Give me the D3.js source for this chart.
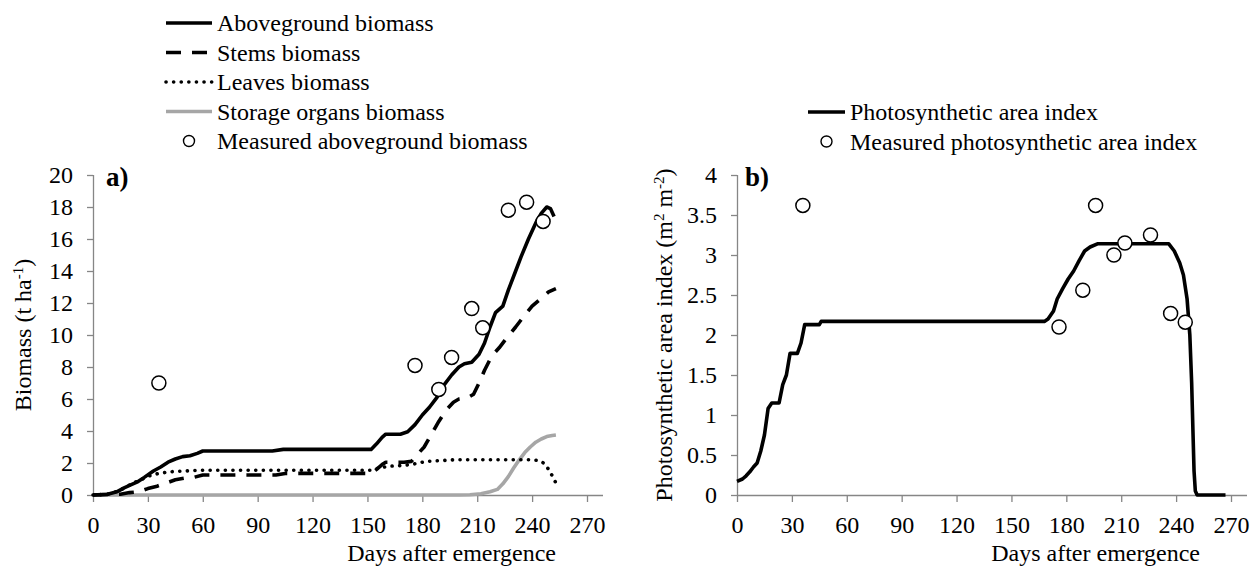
<!DOCTYPE html>
<html>
<head>
<meta charset="utf-8">
<script src="https://cdn.jsdelivr.net/npm/d3@7"></script>
<style>
	body { margin: 0; background: #fff; }
	svg text { font-family: "Liberation Serif", "Times New Roman", serif; fill: #000; }
</style>
</head>
<body>
<script>
// [day, value] pairs
let aboveground = [[0,0],[8,0.05],[13,0.2],[17,0.45],[20,0.6],[24,0.8],[28,1.1],[33,1.5],[37,1.75],[41,2.05],[45,2.25],[49,2.4],[53,2.45],[57,2.6],[60,2.75],[80,2.75],[98,2.75],[104,2.85],[130,2.85],[152,2.85],[155,3.2],[158,3.6],[160,3.8],[168,3.8],[172,3.95],[176,4.4],[180,5.0],[184,5.5],[188,6.1],[192,6.9],[196,7.5],[200,8.0],[203,8.2],[207,8.3],[211,8.8],[214,9.5],[217,10.5],[220,11.4],[224,11.8],[227,12.8],[231,14.0],[234,14.9],[238,16.0],[242,17.0],[245,17.6],[248,18.0],[250,17.9],[252,17.4]];
let stems = [[0,0],[15,0.05],[20,0.15],[25,0.2],[30,0.4],[35,0.55],[40,0.75],[45,0.95],[50,1.05],[55,1.1],[60,1.25],[100,1.25],[105,1.35],[152,1.35],[155,1.6],[158,1.9],[160,2.05],[170,2.05],[174,2.1],[177,2.5],[181,3.0],[185,3.8],[189,4.6],[193,5.3],[197,5.8],[200,6.0],[205,6.1],[208,6.3],[211,7.0],[214,7.8],[218,8.7],[222,9.2],[226,9.8],[231,10.5],[235,11.1],[240,11.8],[245,12.3],[249,12.7],[253,12.9]];
let leaves = [[0,0],[8,0.05],[14,0.25],[18,0.5],[22,0.75],[27,1.0],[31,1.2],[36,1.35],[42,1.45],[50,1.5],[60,1.55],[100,1.55],[152,1.55],[157,1.7],[162,1.8],[170,1.85],[176,1.95],[182,2.1],[190,2.15],[197,2.2],[240,2.2],[244,2.15],[247,1.95],[249,1.6],[251,1.2],[253,0.75]];
let storage = [[0,0],[200,0],[206,0.02],[212,0.08],[217,0.2],[221,0.35],[224,0.7],[227,1.15],[230,1.7],[233,2.2],[236,2.65],[239,3.0],[242,3.3],[245,3.5],[248,3.65],[251,3.72],[253,3.75]];
let measuredBiomass = [[36,7.0],[176,8.1],[189,6.6],[196,8.6],[207,11.65],[213,10.45],[227,17.8],[237,18.3],[246,17.1]];

let pai = [[0,0.17],[3,0.2],[5,0.24],[7,0.29],[9,0.35],[11,0.4],[13,0.55],[15,0.75],[17,1.08],[19,1.15],[23,1.15],[25,1.38],[27,1.5],[29,1.77],[33,1.77],[35,1.9],[37,2.13],[45,2.13],[46,2.17],[168,2.17],[170,2.2],[173,2.3],[175,2.45],[178,2.58],[181,2.7],[184,2.8],[187,2.93],[190,3.05],[193,3.1],[197,3.14],[236,3.14],[239,3.05],[242,2.9],[244,2.75],[246,2.45],[247.5,2.0],[248.5,1.4],[249.2,0.8],[249.8,0.3],[250.5,0.05],[251.5,0],[267,0]];
let measuredPai = [[36,3.62],[176,2.1],[189,2.56],[196,3.62],[206,3.0],[212,3.15],[226,3.25],[237,2.27],[245,2.16]];

let dayTicks = d3.range(0, 271, 30);
let biomassTicks = d3.range(0, 21, 2);
let paiTicks = d3.range(0, 4.01, 0.5);

let width = 1257;
let height = 568;
let plotTop = 175, plotBottom = 495;
let fontSize = 24;

let svg = d3.select("body").append("svg")
	.attr("width", width)
	.attr("height", height);

let styles = {
	solid: { stroke: "#000", dash: null, cap: "butt" },
	dashed: { stroke: "#000", dash: "15,11", cap: "butt" },
	dotted: { stroke: "#000", dash: "0.1,7.5", cap: "round" },
	gray: { stroke: "#a6a6a6", dash: null, cap: "butt" }
};

function drawPanel(opt){
	let x = d3.scaleLinear().domain([0, 270]).range([opt.left, opt.left + 494]);
	let y = d3.scaleLinear().domain([0, opt.yMax]).range([plotBottom, plotTop]);
	let g = svg.append("g");

	// axes, excel style: grey line, ticks outside
	let xAxis = g.append("g")
		.attr("transform", `translate(0,${plotBottom})`)
		.call(d3.axisBottom(x).tickValues(dayTicks).tickSize(7).tickPadding(14).tickFormat(d3.format("d")));
	xAxis.select(".domain").attr("d", `M${x(0)},0.5H${x(270) + 16}`);

	let yAxis = g.append("g")
		.attr("transform", `translate(${opt.left},0)`)
		.call(d3.axisLeft(y).tickValues(opt.ticks).tickSize(6).tickPadding(14).tickFormat(opt.fmt));
	yAxis.select(".domain").attr("d", `M0.5,${plotBottom}V${plotTop}`);

	g.selectAll(".domain, .tick line").attr("stroke", "#868686").attr("stroke-width", 1.3);
	g.selectAll(".tick text")
		.style("font-family", "'Liberation Serif', serif")
		.style("font-size", fontSize + "px")
		.attr("fill", "#000");

	let line = d3.line().x(d => x(d[0])).y(d => y(d[1]));
	opt.series.forEach(s => {
		let st = styles[s.style];
		g.append("path")
			.datum(s.data)
			.attr("d", line)
			.attr("fill", "none")
			.attr("stroke", st.stroke)
			.attr("stroke-width", 3.6)
			.attr("stroke-linecap", st.cap)
			.attr("stroke-linejoin", "round")
			.attr("stroke-dasharray", st.dash);
	});

	g.selectAll(".obs")
		.data(opt.points)
		.enter()
		.append("circle")
		.attr("cx", d => x(d[0]))
		.attr("cy", d => y(d[1]))
		.attr("r", 7)
		.attr("fill", "#fff")
		.attr("stroke", "#000")
		.attr("stroke-width", 1.5);

	g.append("text")
		.attr("x", opt.left + opt.tagDx)
		.attr("y", plotTop + 11)
		.style("font-size", "27px")
		.style("font-weight", "bold")
		.text(opt.tag);

	g.append("text")
		.attr("x", x(196))
		.attr("y", 561)
		.attr("text-anchor", "middle")
		.style("font-size", fontSize + "px")
		.text("Days after emergence");

	let yt = g.append("text")
		.attr("transform", `translate(${opt.titleX},${(plotTop + plotBottom) / 2}) rotate(-90)`)
		.attr("text-anchor", "middle")
		.attr("dy", "0.35em")
		.style("font-size", fontSize + "px");
	opt.title(yt);

	// legend
	let lg = g.append("g");
	opt.legend.forEach((item, i) => {
		let ly = opt.legendY + i * 29.5;
		if(item.style){
			let st = styles[item.style];
			lg.append("line")
				.attr("x1", opt.legendX).attr("x2", opt.legendX + opt.legendLen)
				.attr("y1", ly).attr("y2", ly)
				.attr("stroke", st.stroke)
				.attr("stroke-width", 3.6)
				.attr("stroke-linecap", st.cap)
				.attr("stroke-dasharray", st.dash);
		} else {
			lg.append("circle")
				.attr("cx", opt.legendX + opt.legendLen / 2).attr("cy", ly)
				.attr("r", 5.5)
				.attr("fill", "#fff")
				.attr("stroke", "#000")
				.attr("stroke-width", 1.4);
		}
		lg.append("text")
			.attr("x", opt.legendX + opt.legendLen + 5)
			.attr("y", ly)
			.attr("dy", "0.35em")
			.style("font-size", fontSize + "px")
			.text(item.label);
	});
}

drawPanel({
	left: 93,
	yMax: 20,
	ticks: biomassTicks,
	fmt: d3.format("d"),
	tag: "a)",
	tagDx: 13,
	titleX: 23,
	title: t => {
		t.append("tspan").text("Biomass (t ha");
		t.append("tspan").attr("baseline-shift", "super").style("font-size", "15px").text("-1");
		t.append("tspan").text(")");
	},
	series: [
		{ data: storage, style: "gray" },
		{ data: leaves, style: "dotted" },
		{ data: stems, style: "dashed" },
		{ data: aboveground, style: "solid" }
	],
	points: measuredBiomass,
	legendX: 166,
	legendLen: 46,
	legendY: 23,
	legend: [
		{ label: "Aboveground biomass", style: "solid" },
		{ label: "Stems biomass", style: "dashed" },
		{ label: "Leaves biomass", style: "dotted" },
		{ label: "Storage organs biomass", style: "gray" },
		{ label: "Measured aboveground biomass" }
	]
});

drawPanel({
	left: 737,
	yMax: 4,
	ticks: paiTicks,
	fmt: d => d3.format("")(d),
	tag: "b)",
	tagDx: 8,
	titleX: 664,
	title: t => {
		t.append("tspan").text("Photosynthetic area index (m");
		t.append("tspan").attr("baseline-shift", "super").style("font-size", "15px").text("2");
		t.append("tspan").text(" m");
		t.append("tspan").attr("baseline-shift", "super").style("font-size", "15px").text("-2");
		t.append("tspan").text(")");
	},
	series: [
		{ data: pai, style: "solid" }
	],
	points: measuredPai,
	legendX: 808,
	legendLen: 37,
	legendY: 112,
	legend: [
		{ label: "Photosynthetic area index", style: "solid" },
		{ label: "Measured photosynthetic area index" }
	]
});
</script>
</body>
</html>
